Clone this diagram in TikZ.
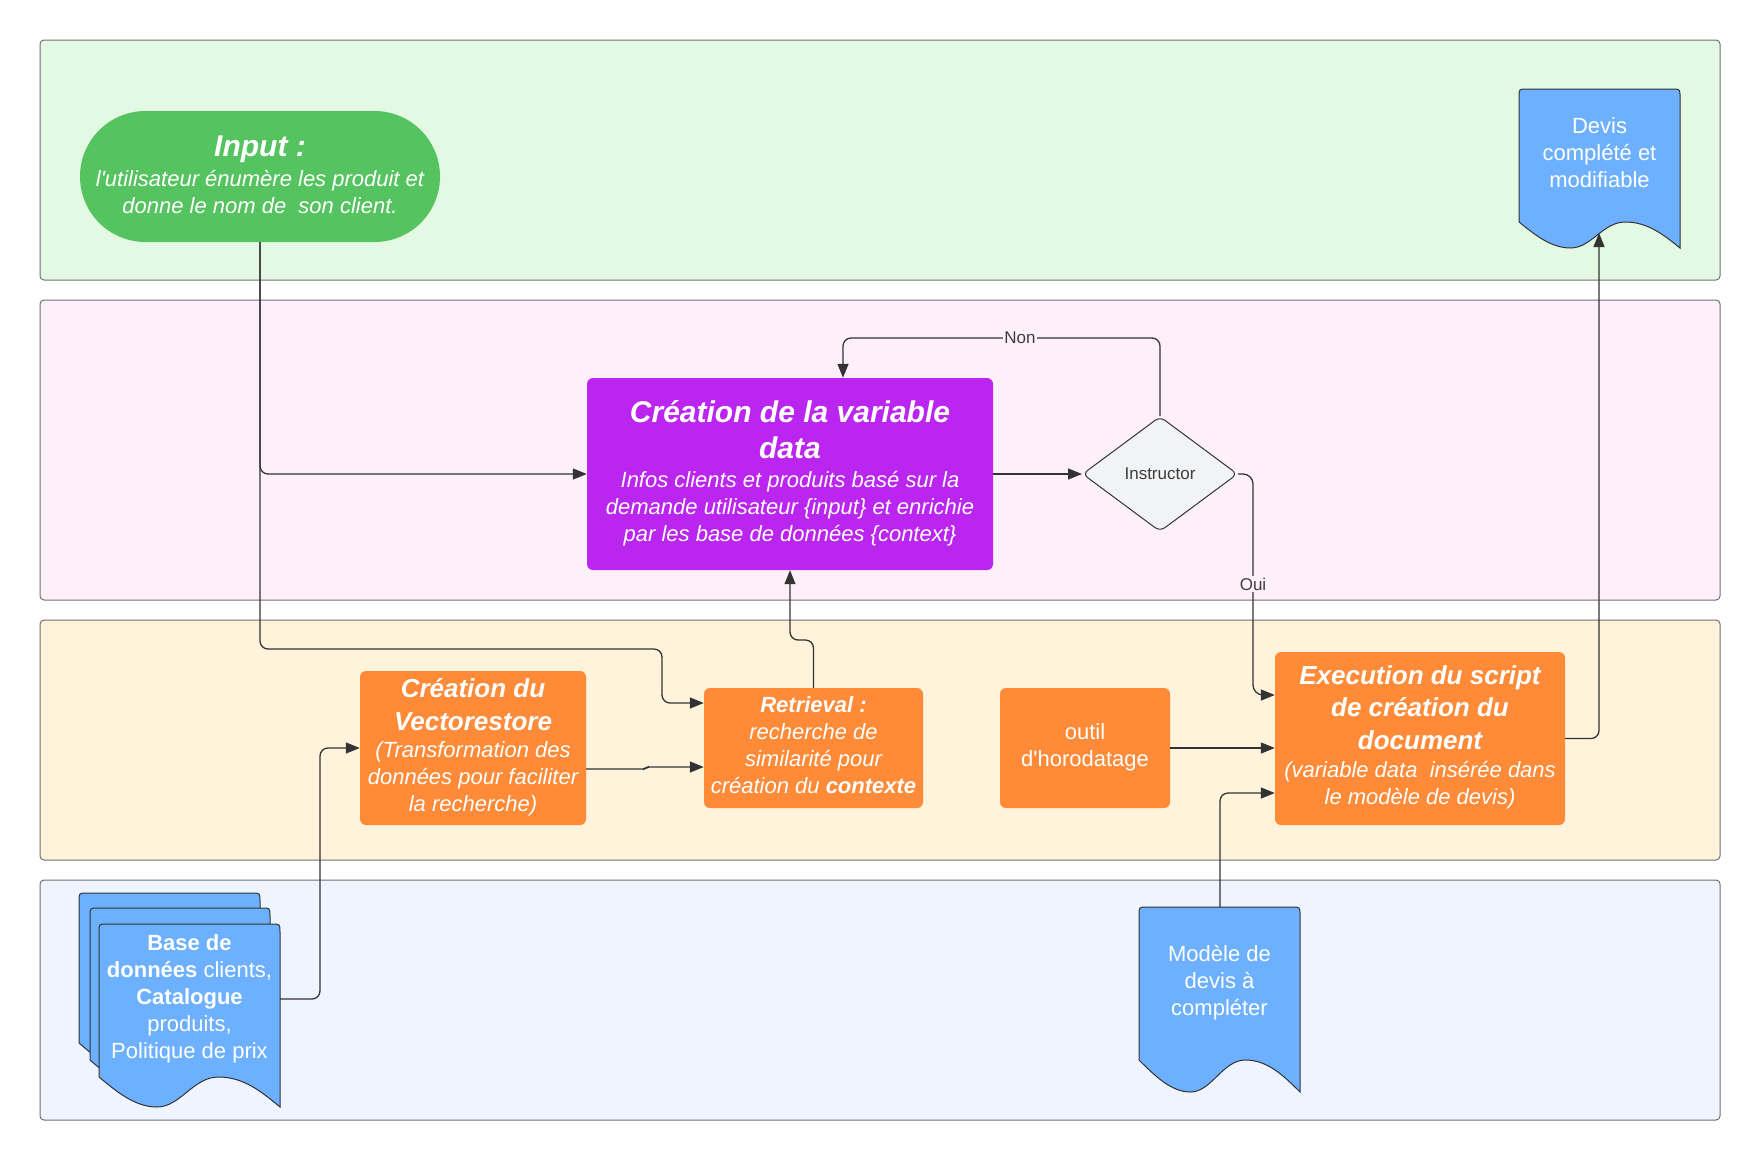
\documentclass[tikz,border=0pt]{standalone}
\usepackage{fontspec}
\setmainfont{Liberation Sans}
\usetikzlibrary{arrows.meta,shapes.geometric,shapes.misc,calc}
\definecolor{laneG}{HTML}{E3F9E3}
\definecolor{laneP}{HTML}{FEF0FA}
\definecolor{laneO}{HTML}{FFF3DB}
\definecolor{laneB}{HTML}{EEF5FF}
\definecolor{laneBorder}{HTML}{707070}
\definecolor{greenC}{HTML}{55C35F}
\definecolor{purpleC}{HTML}{BA26F0}
\definecolor{orangeC}{HTML}{FF8A38}
\definecolor{docC}{HTML}{6CB0FF}
\definecolor{diaC}{HTML}{F2F3F5}
\definecolor{lineC}{HTML}{333333}
\definecolor{lblC}{HTML}{3D3D3D}
\newcommand\fsz[2]{\fontsize{#1}{#2}\selectfont}
% L T R Bt Bb
\newcommand\docshape[5]{%
  \draw[docst] (#1,#4) -- (#1,#2+8) .. controls (#1,#2) .. (#1+8,#2) -- (#3-8,#2) .. controls (#3,#2) .. (#3,#2+8) -- (#3,#5)
   .. controls ({#3-0.1*(#3-#1)},{#4+0.5*(#5-#4)}) and ({#3-0.2*(#3-#1)},#4) .. ({#1+0.66*(#3-#1)},#4)
   .. controls ({#1+0.52*(#3-#1)},#4) and ({#1+0.45*(#3-#1)},#5) .. ({#1+0.32*(#3-#1)},#5)
   .. controls ({#1+0.2*(#3-#1)},#5) and ({#1+0.1*(#3-#1)},{#4+0.5*(#5-#4)}) .. (#1,#4) -- cycle;}
\begin{document}
\begin{tikzpicture}[x=1pt,y=-1pt,
  lane/.style={draw=laneBorder, line width=1pt, rounded corners=4pt},
  docst/.style={draw=lineC, line width=1pt, fill=docC},
  obox/.style={fill=orangeC, rounded corners=6pt, inner sep=0pt},
  pbox/.style={fill=purpleC, rounded corners=6pt, inner sep=0pt},
  wtxt/.style={text=white, align=center, inner sep=0pt, anchor=base},
  conn/.style={draw=lineC, line width=1.3pt, rounded corners=8pt, -{Triangle[length=14pt,width=11pt]}},
  lbl/.style={text=lblC, font=\fsz{17}{20}, inner sep=1.5pt},
]
\useasboundingbox[fill=white] (0,0) rectangle (1760,1160);
% lanes
\draw[lane, fill=laneG] (40,40) rectangle (1720,280);
\draw[lane, fill=laneP] (40,300) rectangle (1720,600);
\draw[lane, fill=laneO] (40,620) rectangle (1720,860);
\draw[lane, fill=laneB] (40,880) rectangle (1720,1120);

% shapes
\node[rounded rectangle, fill=greenC, minimum width=360pt, minimum height=131pt, inner sep=0pt] (inp) at (260,176.5) {};
\node[pbox, minimum width=406pt, minimum height=192pt] (pur) at (790,474) {};
\node[diamond, draw=lineC, line width=1pt, fill=diaC, rounded corners=6pt, minimum width=155pt, minimum height=115pt, inner sep=0pt, text=lblC, font=\fsz{17}{20}] (dia) at (1160,474) {Instructor};
\node[obox, minimum width=226pt, minimum height=154pt] (vec) at (473,748) {};
\node[obox, minimum width=219pt, minimum height=120pt] (retr) at (813.5,748) {};
\node[obox, minimum width=170pt, minimum height=120pt] (outil) at (1085,748) {};
\node[obox, minimum width=290pt, minimum height=173pt] (exec) at (1420,738.5) {};

% documents
\docshape{1519}{89}{1680}{222}{248}
\docshape{1139}{907}{1300}{1060}{1092}
\docshape{79}{893}{260}{1043}{1074}
\docshape{90}{908}{270}{1060}{1091}
\docshape{99}{924}{280}{1077}{1107}
\coordinate (devB) at (1599,233);
\coordinate (modT) at (1220,907);
\coordinate (baseR) at (280,999);

% texts (anchor base = baseline of the last line)
\node[wtxt, font=\fsz{30}{37}\bfseries\itshape] (inpT) at (260,156) {Input :};
\node[wtxt, font=\fsz{22}{27}\itshape] (inpB) at (260,213) {l\textquotesingle utilisateur énumère les produit et\\donne le nom de\ \ son client.};
\node[wtxt, font=\fsz{30}{36.5}\bfseries\itshape] (purT) at (790,458.5) {Création de la variable\\data};
\node[wtxt, font=\fsz{22}{27}\itshape] (purB) at (790,541) {Infos clients et produits basé sur la\\demande utilisateur \{input\} et enrichie\\par les base de données \{context\}};
\node[wtxt, font=\fsz{26}{33}\bfseries\itshape] (vecT) at (473,730) {Création du\\Vectorestore};
\node[wtxt, font=\fsz{22}{27}\itshape] (vecB) at (473,811) {(Transformation des\\données pour faciliter\\la recherche)};
\node[wtxt, font=\fsz{22}{26.7}\itshape] (retrT) at (813.5,793) {{\bfseries Retrieval :}\\recherche de\\similarité pour\\création du {\bfseries contexte}};
\node[wtxt, font=\fsz{22}{27}] (outilT) at (1085,766) {outil\\d\textquotesingle horodatage};
\node[wtxt, font=\fsz{26}{32.5}\bfseries\itshape] (execT) at (1420,749) {Execution du script\\de création du\\document};
\node[wtxt, font=\fsz{22}{27}\itshape] (execB) at (1420,804) {(variable data\ \ insérée dans\\le modèle de devis)};
\node[wtxt, font=\fsz{22}{27}] (devT) at (1599.5,187) {Devis\\complété et\\modifiable};
\node[wtxt, font=\fsz{22}{26.7}] (modTx) at (1219.5,1015) {Modèle de\\devis à\\compléter};
\node[wtxt, font=\fsz{22}{27}] (baseT) at (189.5,1058) {\textbf{Base de}\\\textbf{données} clients,\\\textbf{Catalogue}\\produits,\\Politique de prix};

% connectors
\draw[conn] (inp.south) -- (260,474) -- (pur.west);
\draw[conn] (inp.south) -- (260,649) -- (662,649) -- (662,703) -- (retr.west |- 0,703);
\draw[conn, rounded corners=2pt] ([yshift=-21pt]vec.east) -- (645,769) -- (647,767) -- ([yshift=-19pt]retr.west);
\draw[conn] (baseR) -- (320,999) -- (320,748) -- (vec.west);
\draw[conn] (retr.north) -- (retr.north |- 0,640) -- (pur.south |- 0,640) -- (pur.south);
\draw[conn] (pur.east) -- (dia.west);
\draw[conn] (dia.north) -- (1160,338) -- (843,338) -- (pur.north -| 843,0);
\node[lbl, fill=laneP] (non) at (1020,338) {Non};
\draw[conn, rounded corners=10pt] (dia.east) -- (1253,474) -- (1253,695) -- ([yshift=43.5pt]exec.west);
\node[lbl, fill=laneP] (oui) at (1253,584) {Oui};
\draw[conn] (outil.east) -- (outil.east -| exec.west);
\draw[conn] (modT) -- (1220,793) -- ([yshift=-54.5pt]exec.west);
\draw[conn] (exec.east) -- (1599,738.5) -- (devB);
\end{tikzpicture}
\end{document}
